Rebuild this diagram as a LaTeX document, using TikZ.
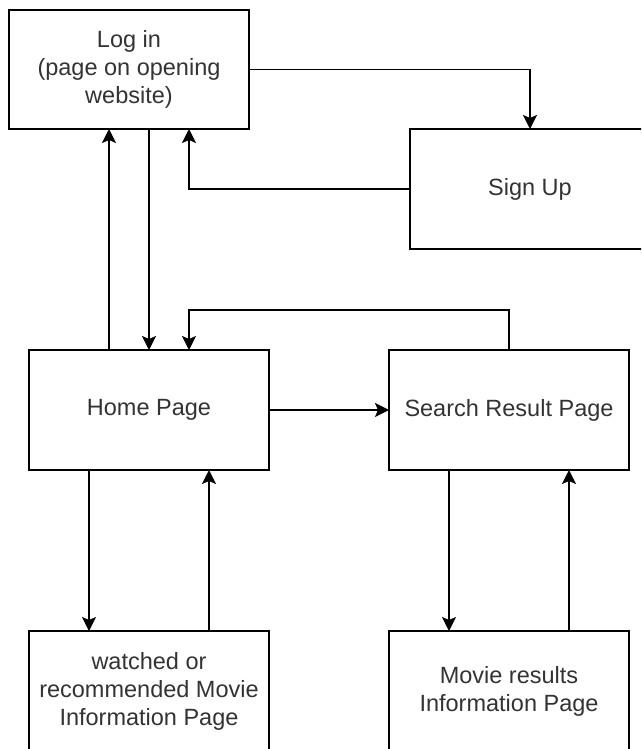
\documentclass[tikz,border=0pt]{standalone}
\usepackage{fontspec}
\setmainfont{Liberation Sans}
\usetikzlibrary{arrows.meta}
\definecolor{txt}{HTML}{333333}
\begin{document}
\begin{tikzpicture}[x=1pt,y=-1pt,
  box/.style={draw=black, line width=1.8pt, anchor=north west, inner sep=0pt, outer sep=0pt,
    minimum width=240pt, minimum height=120pt, align=center,
    font=\fontsize{23.5}{28}\selectfont, text=txt},
  arr/.style={draw=black, line width=1.8pt, -{Stealth[length=14pt,width=14pt,inset=3pt]}},
  ln/.style={draw=black, line width=1.8pt}]
\useasboundingbox (0,0) rectangle (641,749);
\clip (0,0) rectangle (641,749);
\fill[white] (0,0) rectangle (641,749);

\node[box, minimum height=119pt] (login) at (9,10) {Log in\\(page on opening\\website)};
\node[box] (signup) at (410,129) {Sign Up};
\node[box] (home) at (29,350) {Home Page};
\node[box] (search) at (389,350) {Search Result Page};
\node[box] (watched) at (29,631) {watched or\\recommended Movie\\Information Page};
\node[box] (movie) at (389,631) {Movie results\\Information Page};

\coordinate (l2) at ([xshift=180pt]login.south west);
\coordinate (h1) at ([xshift=80pt]home.north west);
\coordinate (h3) at ([xshift=160pt]home.north west);
\coordinate (h4) at ([xshift=60pt]home.south west);
\coordinate (w1) at ([xshift=180pt]watched.north west);
\coordinate (s4) at ([xshift=60pt]search.south west);
\coordinate (m1) at ([xshift=180pt]movie.north west);

\draw[arr] (login.east) -| (signup.north);
\draw[arr] (signup.west) -| (l2);
\draw[arr] (h1) -- (h1 |- login.south);
\draw[arr] (home.north |- login.south) -- (home.north);
\draw[arr] (search.north) -- ++(0,-40) -| (h3);
\draw[arr] (home.east) -- (search.west);
\draw[arr] (h4) -- (h4 |- watched.north);
\draw[arr] (w1) -- (w1 |- home.south);
\draw[arr] (s4) -- (s4 |- movie.north);
\draw[arr] (m1) -- (m1 |- search.south);
\end{tikzpicture}
\end{document}
